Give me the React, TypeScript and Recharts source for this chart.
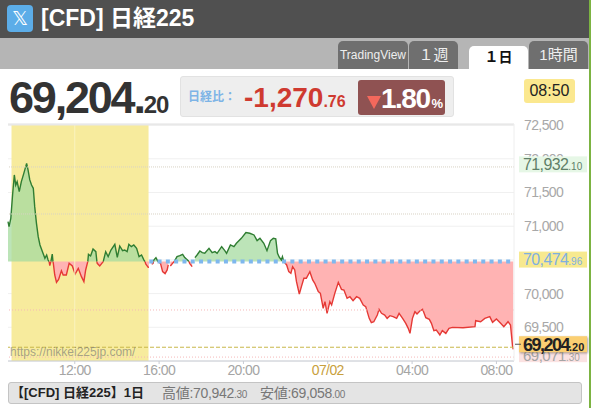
import React from 'react';
import {
  ComposedChart, Area, XAxis, YAxis, CartesianGrid, ReferenceArea, ReferenceLine,
} from 'recharts';

// minutes since 08:50 on the day before, and the price at that minute
const minutes = [
  0, 3, 8, 13, 18, 22, 26, 32, 38, 45, 53, 57, 62, 67, 72, 76, 81, 86, 91, 97, 105, 110, 114, 117, 119, 122, 126, 128,
  129, 133, 138, 144, 152, 157, 166, 174, 183, 191, 200, 209, 216, 221, 227, 229, 235, 242, 250, 253, 254, 261, 271,
  278, 285, 293, 304, 311, 318, 326, 332, 339, 344, 351, 358, 366, 373, 380, 387, 390, 392, 399, 401, 405,
  409, 413, 414, 415, 421, 427, 434, 440, 447, 453, 456, 459, 462, 470, 473, 481, 489, 497, 503, 513, 515, 517, 524, 528,
  532, 538, 546, 553, 560, 572, 581, 589, 595, 608, 617, 622, 633, 643, 650, 664, 677, 688, 700, 709, 717, 728, 737,
  747, 755, 762, 767, 772, 778, 781, 785, 793, 799, 805, 810, 816, 821, 829, 835, 842, 849, 859, 867, 873, 883, 889,
  897, 902, 908, 916, 921, 930, 940, 949, 956, 965, 973, 982, 992, 1001, 1011, 1018, 1028, 1034, 1041, 1051, 1056,
  1063, 1072, 1079, 1087, 1096, 1106, 1113, 1123, 1132, 1139, 1144, 1151, 1158, 1164, 1172, 1180, 1189, 1199, 1205,
  1212, 1219, 1229, 1236, 1246, 1255, 1265, 1295, 1329, 1331, 1345, 1357, 1371, 1379, 1390, 1402, 1411, 1423, 1430,
  1436, 1438,
];
const prices = [
  71067, 70993, 71117, 71463, 71760, 71611, 71661, 71512, 71661, 71784, 71932, 71834, 71686, 71611, 71562, 71290, 71042,
  70844, 70721, 70637, 70523, 70572, 70498, 70474.96, 70414, 70474.96, 70587, 70474.96,
  70449, 70276, 70167, 70211, 70340, 70276, 70276, 70449, 70409, 70290, 70375, 70251, 70177, 70350, 70474.96, 70582,
  70558, 70662, 70622, 70474.96, 70449, 70409, 70474.96,
  70622, 70548, 70647, 70731, 70538, 70706, 70637, 70647, 70622, 70731, 70696, 70721, 70671, 70548, 70572, 70498,
  70474.96, 70439, 70389, 70390, null,
  70435, 70450, 70474.96, 70499, 70534, 70474.96, 70449, 70326, 70296, 70351, 70425, null, 70410, 70459, 70474.96, 70548,
  70563, 70583, 70534, 70489, 70474.96, 70449, 70400, null,
  70534, 70573, 70632, 70608, 70598, 70672, 70608, 70623, 70598, 70697, 70637, 70598, 70722, 70697, 70746, 70820, 70905,
  70895, 70870, 70786, 70820, 70746, 70637,
  70786, 70820, 70811, 70598, 70539, 70499, 70548, 70474.96, 70425, 70326, 70301, 70400, 70351, 70177, 69994, 70103,
  70227, 70227, 70325, 70202, 70152, 70029, 70004,
  69781, 69880, 69707, 69880, 69831, 70004, 70167, 70063, 70053, 69930, 69954, 69895, 69954, 69930, 69831, 69806, 69633,
  69569, 69583, 69682, 69766,
  69707, 69682, 69633, 69672, 69658, 69633, 69707, 69633, 69559, 69484, 69410, 69633, 69732, 69697, 69742, 69766, 69643,
  69618, 69559,
  69450, 69460, 69386, 69450, 69410, 69484, 69499, 69494, 69509, 69598, 69583, 69633, 69658, 69573, 69623, 69559, 69509,
  69583, 69534,
  69212, 69173,
];

const BASE = 70474.96;
const LAST = 69204.2;
const HIGH = 71932.1;
const LOW = 69071.3;
const Y_MIN = 69000;
const Y_MAX = 72516;

const priceTicks = [69500, 70000, 70500, 71000, 71500, 72000, 72500];
const timeTicks = [190, 430, 670, 910, 1150, 1390];
const timeLabels = ['12:00', '16:00', '20:00', '07/02', '04:00', '08:00'];
const greyLevels = [71879, 71181];
const pinkLevels = [69757, 69058];

const chartData = minutes.map((m, i) => {
  const p = prices[i];
  return {
    m,
    up: p !== null && p >= BASE ? p : null,
    down: p !== null && p <= BASE ? p : null,
  };
});

const sans = '"Liberation Sans", "Noto Sans CJK JP", sans-serif';

const PriceTag = (props: any) => {
  const { viewBox, whole, cents, fill, color, top, h, size, small, bold, spacing, dash } = props;
  const right = viewBox.x + viewBox.width;
  const x = right + 5;
  const boxY = viewBox.y + top;
  return (
    <g>
      <rect
        x={x} y={boxY} width={68} height={h} fill={fill}
        style={dash ? { filter: 'drop-shadow(1px 1px 1px rgba(0,0,0,0.35))' } : undefined}
      />
      {dash && <line x1={right + 1} x2={x + 2} y1={boxY + h / 2} y2={boxY + h / 2} stroke="#555" />}
      <text x={x + 4} y={boxY + h / 2 + size * 0.36} fill={color} fontFamily={sans} fontSize={size} fontWeight={bold ? 700 : 400} letterSpacing={spacing}>
        {whole}
        <tspan fontSize={small} letterSpacing={0}>{cents}</tspan>
      </text>
    </g>
  );
};

const TimeTick = (props: any) => {
  const { x, y, payload } = props;
  const i = timeTicks.indexOf(payload.value);
  return (
    <text x={x} y={y + 9} textAnchor="middle" fill={i === 3 ? '#c8a03c' : '#a5a5a5'} fontFamily={sans} fontSize={14} letterSpacing={-0.6}>
      {timeLabels[i]}
    </text>
  );
};

const box = (x: number, y: number, w: number, h: number): React.CSSProperties => ({
  position: 'absolute', left: x, top: y, width: w, height: h,
});

const Tab = ({ x, w, y, bg, color, size, bold, label }: any) => (
  <div style={{
    ...box(x, y, w, 69 - y), background: bg, color, fontSize: size, fontWeight: bold ? 700 : 400,
    borderRadius: '5px 5px 0 0', textAlign: 'center', lineHeight: `${69 - y}px`,
  }}>{label}</div>
);

export default function App() {
  return (
    <div style={{ ...box(0, 0, 591, 408), background: '#fff', overflow: 'hidden', fontFamily: sans }}>
      <div style={{ ...box(0, 0, 589, 38), background: '#505050' }} />
      <div style={{ ...box(0, 38, 589, 31), background: '#b5b5b5' }} />
      <div style={{ ...box(589, 0, 2, 408), background: '#7cb342' }} />
      <div style={{ ...box(7, 5, 26, 27), background: '#5cade8', borderRadius: 4, color: '#fff', fontSize: 20, textAlign: 'center', lineHeight: '27px', fontFamily: '"DejaVu Sans"' }}>𝕏</div>
      <div style={{ ...box(41, 3, 300, 30), color: '#fff', fontSize: 23, fontWeight: 700, lineHeight: '30px' }}>[CFD] 日経225</div>

      <Tab x={338} w={70} y={41} bg="#6f6f6f" color="#eee" size={12} label="TradingView" />
      <Tab x={409} w={49} y={41} bg="#6f6f6f" color="#eee" size={15} label="１週" />
      <Tab x={469} w={59} y={46} bg="#fff" color="#111" size={14} bold label="１日" />
      <Tab x={529} w={59} y={41} bg="#6f6f6f" color="#eee" size={15} label="1時間" />

      <div style={{ ...box(9, 72, 175, 52), color: '#333', fontWeight: 700, fontSize: 45, letterSpacing: -2.2, lineHeight: '52px', whiteSpace: 'nowrap' }}>
        69,204.<span style={{ fontSize: 24, letterSpacing: -1 }}>20</span>
      </div>

      <div style={{ ...box(180, 76, 274, 41), background: '#eeeeee', border: '1px solid #e2e2e2', borderRadius: 3, boxSizing: 'border-box' }} />
      <div style={{ ...box(188, 88, 52, 18), color: '#7db4e6', fontSize: 12, fontWeight: 700, lineHeight: '18px' }}>日経比：</div>
      <div style={{ ...box(244, 76, 110, 41), color: '#cf3a30', fontSize: 28, fontWeight: 700, lineHeight: '43px', whiteSpace: 'nowrap' }}>
        -1,270<span style={{ fontSize: 16 }}>.76</span>
      </div>
      <div style={{ ...box(358, 80, 87, 35), background: '#8f5252', borderRadius: 3 }} />
      <div style={{ ...box(367, 96, 0, 0), borderLeft: '7px solid transparent', borderRight: '7px solid transparent', borderTop: '13px solid #f4685c' }} />
      <div style={{ ...box(381, 80, 64, 35), color: '#fff', fontSize: 28, fontWeight: 700, letterSpacing: -1.5, lineHeight: '37px', whiteSpace: 'nowrap' }}>
        1.80<span style={{ fontSize: 13, letterSpacing: 0, marginLeft: 2 }}>%</span>
      </div>
      <div style={{ ...box(524, 79, 51, 24), background: '#fbe88f', borderRadius: 3, color: '#222', fontSize: 16, textAlign: 'center', lineHeight: '24px' }}>08:50</div>

      <div style={box(0, 0, 591, 408)}>
        <ComposedChart width={591} height={408} data={chartData} margin={{ top: 124, right: 0, bottom: 0, left: 8 }}>
          <CartesianGrid stroke="#f0f0f0" vertical={false} />
          <ReferenceArea x1={10} x2={400} y1={Y_MIN} y2={Y_MAX} fill="#f7eb9d" fillOpacity={1} stroke="none" />
          <ReferenceLine x={190} stroke="#faf3c0" />
          {greyLevels.map((v) => (
            <ReferenceLine key={v} y={v} stroke="#d8d2c4" strokeDasharray="1 1" />
          ))}
          {pinkLevels.map((v) => (
            <ReferenceLine key={v} y={v} stroke="#f5b8b8" strokeDasharray="1 2" />
          ))}
          <ReferenceLine y={72508} stroke="#e8e8e8" strokeWidth={2} />
          <XAxis
            dataKey="m" type="number" domain={[0, 1440]} ticks={timeTicks} height={47}
            tick={<TimeTick />} tickSize={3} stroke="#c8ccd4" interval={0}
          />
          <YAxis
            orientation="right" type="number" domain={[Y_MIN, Y_MAX]} ticks={priceTicks} width={77} interval={0}
            tickFormatter={(v: number) => v.toLocaleString('en-US')} tickSize={0} tickMargin={10}
            tick={{ fill: '#a8a8a8', fontSize: 14, fontFamily: sans, letterSpacing: -0.6 }} stroke="#eeeeee"
          />
          <Area dataKey="up" baseValue={BASE} stroke="#2f7d32" strokeWidth={1.4} fill="#a6dba0" fillOpacity={0.75} isAnimationActive={false} connectNulls={false} dot={false} activeDot={false} />
          <Area dataKey="down" baseValue={BASE} stroke="#e53935" strokeWidth={1.4} fill="#ffb3b3" fillOpacity={1} isAnimationActive={false} connectNulls={false} dot={false} activeDot={false} />
          <ReferenceLine segment={[{ x: 402, y: BASE }, { x: 1436, y: BASE }]} stroke="#7fb8ee" strokeWidth={4} strokeDasharray="4 4.3" />
          <ReferenceLine y={LAST} stroke="#c8b84a" strokeDasharray="4 2" />
        </ComposedChart>
      </div>

      {/* price tags sit on top of the axis labels, so they get their own chart layer */}
      <div style={{ ...box(0, 0, 591, 408), pointerEvents: 'none' }}>
        <ComposedChart width={591} height={408} data={chartData} margin={{ top: 124, right: 77, bottom: 47, left: 8 }}>
          <XAxis dataKey="m" type="number" domain={[0, 1440]} hide />
          <YAxis type="number" domain={[Y_MIN, Y_MAX]} hide />
          <Area dataKey="up" stroke="none" fill="none" isAnimationActive={false} dot={false} activeDot={false} />
          <ReferenceLine y={HIGH} stroke="#fff" strokeOpacity={0} label={(p: any) => (
            <PriceTag viewBox={p.viewBox} whole="71,932" cents=".10" fill="#e6f7e6" color="#5f7f68" top={-7} h={16} size={16} small={10} spacing={-0.6} />
          )} />
          <ReferenceLine y={LOW} stroke="#fff" strokeOpacity={0} label={(p: any) => (
            <PriceTag viewBox={p.viewBox} whole="69,071" cents=".30" fill="#fbe2e2" color="#a5a5a5" top={-8} h={14} size={15} small={10} spacing={-0.5} />
          )} />
          <ReferenceLine y={BASE} stroke="#fff" strokeOpacity={0} label={(p: any) => (
            <PriceTag viewBox={p.viewBox} whole="70,474" cents=".96" fill="#f7e98f" color="#7fb0e0" top={-10} h={16} size={16} small={10} spacing={-0.6} />
          )} />
          <ReferenceLine y={LAST} stroke="#fff" strokeOpacity={0} label={(p: any) => (
            <PriceTag viewBox={p.viewBox} whole="69,204" cents=".20" fill="#fbcf72" color="#222" top={-11} h={16} size={18} small={11} bold spacing={-1.5} dash />
          )} />
        </ComposedChart>
      </div>

      <div style={{ ...box(10, 343, 200, 18), color: 'rgba(120,120,120,0.65)', fontSize: 12, lineHeight: '18px' }}>https://nikkei225jp.com/</div>

      <div style={{ ...box(8, 382, 574, 22), background: '#e4e4e4', border: '1px solid #c4c4c4', borderRadius: 3, boxSizing: 'border-box' }} />
      <div style={{ ...box(11, 383, 150, 20), color: '#222', fontSize: 13, fontWeight: 700, lineHeight: '20px', whiteSpace: 'nowrap' }}>【[CFD] 日経225】1日</div>
      <div style={{ ...box(162, 383, 95, 20), color: '#777', fontSize: 14, letterSpacing: -0.3, lineHeight: '20px', whiteSpace: 'nowrap' }}>
        高値:70,942<span style={{ fontSize: 10 }}>.30</span>
      </div>
      <div style={{ ...box(260, 383, 95, 20), color: '#777', fontSize: 14, letterSpacing: -0.3, lineHeight: '20px', whiteSpace: 'nowrap' }}>
        安値:69,058<span style={{ fontSize: 10 }}>.00</span>
      </div>
    </div>
  );
}
